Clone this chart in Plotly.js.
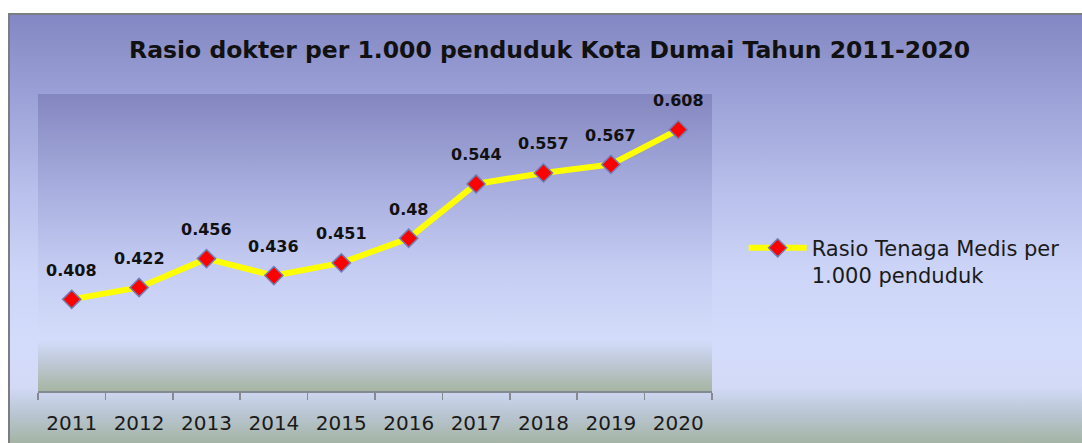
<!DOCTYPE html>
<html>
<head>
<meta charset="utf-8">
<script src="https://cdn.plot.ly/plotly-3.0.1.min.js"></script>
<style>
  html, body { margin: 0; padding: 0; background: #ffffff; }
  #wrap { position: relative; width: 1082px; height: 443px; overflow: hidden; background: #ffffff; }
  #outer { position: absolute; left: 8px; top: 13px; width: 1074px; height: 430px;
    border-left: 2px solid #7c7c84; border-top: 2px solid #7c7c84; box-sizing: border-box;
    background: linear-gradient(to bottom, #8387c3 0px, #9ba1d6 80px, #b9c1ec 180px, #cdd5f8 260px, #d4dcfc 330px, #d2daf6 372px, #bac6d4 398px, #a3b3a1 430px); }
  #plotbg { position: absolute; left: 38px; top: 94px; width: 674px; height: 297px;
    background: linear-gradient(to bottom, #8486bf 0px, #a2a8da 80px, #c3cbf2 170px, #d2daf9 235px, #d4dcfb 246px, #bfc9d8 268px, #a5b5a2 297px); }
  #chart { position: absolute; left: 0; top: 0; width: 1082px; height: 443px; }
</style>
</head>
<body>
<div id="wrap">
  <div id="outer"></div>
  <div id="plotbg"></div>
  <div id="chart"></div>
</div>
<script>
const years = ['2011','2012','2013','2014','2015','2016','2017','2018','2019','2020'];
const ratio = [0.408, 0.422, 0.456, 0.436, 0.451, 0.48, 0.544, 0.557, 0.567, 0.608];
const seriesName = 'Rasio Tenaga Medis per<br>1.000 penduduk';
const chartTitle = 'Rasio dokter per 1.000 penduduk Kota Dumai Tahun 2011-2020';

const trace = {
  type: 'scatter',
  mode: 'lines+markers',
  x: years,
  y: ratio,
  name: seriesName,
  line: { color: '#ffff00', width: 6 },
  marker: { symbol: 'diamond', size: 14, color: '#ff0000', line: { color: '#6f7fb4', width: 1.5 } },
  hoverinfo: 'skip',
  cliponaxis: false
};

const annotations = years.map((yr, i) => ({
  x: i, y: ratio[i], xref: 'x', yref: 'y',
  text: '<b>' + String(ratio[i]) + '</b>',
  showarrow: false, yshift: 29, yanchor: 'middle', xanchor: 'center',
  font: { family: 'DejaVu Sans', size: 16, color: '#111111' }
}));

const layout = {
  width: 1082, height: 443,
  paper_bgcolor: 'rgba(0,0,0,0)',
  plot_bgcolor: 'rgba(0,0,0,0)',
  margin: { l: 38, r: 370, t: 94, b: 52, pad: 0 },
  title: {
    text: '<b>' + chartTitle + '</b>',
    xref: 'container', x: 0.508, xanchor: 'center',
    yref: 'container', y: 1 - 50/443, yanchor: 'middle',
    font: { family: 'DejaVu Sans', size: 23.5, color: '#111111' }
  },
  xaxis: {
    type: 'category',
    showgrid: false, zeroline: false,
    showline: true, linecolor: '#858a92', linewidth: 1.5,
    ticks: 'outside', ticklen: 7, tickwidth: 1.5, tickcolor: '#858a92',
    tickson: 'boundaries',
    ticklabelstandoff: 13,
    tickfont: { family: 'DejaVu Sans', size: 20, color: '#1a1a1a' },
    range: [-0.5, 9.5],
    fixedrange: true
  },
  yaxis: {
    range: [0.3, 0.65],
    visible: false,
    showgrid: false, zeroline: false, fixedrange: true
  },
  showlegend: true,
  legend: {
    x: 1.047, xanchor: 'left', xref: 'paper',
    y: 0.55, yanchor: 'top', yref: 'paper',
    bgcolor: 'rgba(0,0,0,0)',
    font: { family: 'DejaVu Sans', size: 21, color: '#1a1a1a' },
    itemwidth: 58,
    valign: 'top'
  },
  annotations: annotations
};

Plotly.newPlot('chart', [trace], layout, { displayModeBar: false, staticPlot: true });
</script>
</body>
</html>
